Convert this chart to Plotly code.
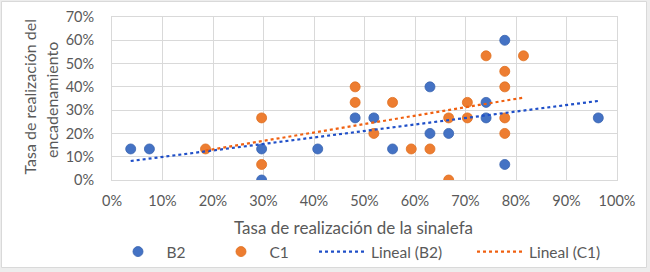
import numpy as np
import plotly.graph_objects as go

# Data (fractions)
b2_x = [1/27, 2/27, 8/27, 8/27, 11/27, 13/27, 14/27, 15/27, 17/27, 17/27, 18/27, 20/27, 20/27, 21/27, 21/27, 26/27]
b2_y = [2/15, 2/15, 2/15, 0, 2/15, 4/15, 4/15, 2/15, 6/15, 3/15, 3/15, 5/15, 4/15, 9/15, 1/15, 4/15]
c1_x = [5/27, 8/27, 8/27, 13/27, 13/27, 14/27, 15/27, 16/27, 17/27, 18/27, 18/27, 19/27, 19/27, 20/27, 21/27, 21/27, 21/27, 21/27, 22/27]
c1_y = [2/15, 4/15, 1/15, 6/15, 5/15, 3/15, 5/15, 2/15, 2/15, 4/15, 0, 5/15, 4/15, 8/15, 7/15, 6/15, 4/15, 3/15, 8/15]

FONT = "Lato, sans-serif"
TXT = "#595959"
BLUE = "#4472C4"
ORANGE = "#ED7D31"

L, R, T, B = 112, 33, 17, 92
PW, PH = 650 - L - R, 272 - T - B

def px(x):  # pixel x -> paper
    return (x - L) / PW

def py(y):  # pixel y -> paper
    return (272 - B - y) / PH

def trend(xs, ys):
    xs = np.array(xs); ys = np.array(ys)
    m, b = np.polyfit(xs, ys, 1)
    tx = np.array([xs.min(), xs.max()])
    return tx, m * tx + b

fig = go.Figure()
fig.add_trace(go.Scatter(x=b2_x, y=b2_y, mode="markers", name="B2", legend="legend",
                         marker=dict(color=BLUE, size=10, line=dict(color="#3A64B0", width=0.8))))
fig.add_trace(go.Scatter(x=c1_x, y=c1_y, mode="markers", name="C1", legend="legend2",
                         marker=dict(color=ORANGE, size=10, line=dict(color="#E07020", width=0.8))))
tx, ty = trend(b2_x, b2_y)
fig.add_trace(go.Scatter(x=tx, y=ty, mode="lines", name="Lineal (B2)", legend="legend3",
                         line=dict(color="#1F4FC8", width=2.2, dash="dot")))
tx, ty = trend(c1_x, c1_y)
fig.add_trace(go.Scatter(x=tx, y=ty, mode="lines", name="Lineal (C1)", legend="legend4",
                         line=dict(color="#F06010", width=2.2, dash="dot")))

def leg(xpix):
    return dict(orientation="h", x=px(xpix), xanchor="left", y=py(252), yanchor="middle",
                font=dict(size=15.5, color=TXT), bgcolor="rgba(0,0,0,0)", itemwidth=47)

fig.update_layout(
    width=650, height=272,
    margin=dict(l=L, r=R, t=T, b=B, autoexpand=False),
    paper_bgcolor="#EDEDED", plot_bgcolor="white",
    font=dict(family=FONT, size=14, color=TXT),
    showlegend=True,
    legend=leg(109.5), legend2=leg(212.5), legend3=leg(314), legend4=leg(472),
    xaxis=dict(range=[0, 1], tickvals=[i/10 for i in range(11)], tickformat=".0%",
               showgrid=True, gridcolor="#D9D9D9", gridwidth=1,
               showline=True, linecolor="#D9D9D9", mirror=True, zeroline=False,
               ticks="", ticklabelstandoff=8, automargin=False,
               tickfont=dict(size=14.5, color=TXT)),
    yaxis=dict(range=[0, 0.7], tickvals=[i/10 for i in range(8)], tickformat=".0%",
               showgrid=True, gridcolor="#D9D9D9", gridwidth=1,
               showline=True, linecolor="#D9D9D9", mirror=True, zeroline=False,
               ticks="", ticklabelstandoff=14, automargin=False,
               tickfont=dict(size=14.5, color=TXT)),
    annotations=[
        dict(text="Tasa de realización de la sinalefa", xref="paper", yref="paper",
             x=px(353), y=py(227), xanchor="center", yanchor="middle", showarrow=False,
             font=dict(size=17, color=TXT)),
        dict(text="Tasa de realización del", xref="paper", yref="paper", textangle=-90,
             x=px(28.5), y=py(97), xanchor="center", yanchor="middle", showarrow=False,
             font=dict(size=16, color=TXT)),
        dict(text="encadenamiento", xref="paper", yref="paper", textangle=-90,
             x=px(52), y=py(100), xanchor="center", yanchor="middle", showarrow=False,
             font=dict(size=16, color=TXT)),
    ],
    shapes=[dict(type="rect", xref="paper", yref="paper", layer="below",
                 x0=px(1.5), x1=px(646.5), y0=py(267.5), y1=py(1.5),
                 fillcolor="white", line=dict(color="#D9D9D9", width=1))],
)

fig.write_html("out.html", post_script="document.body.style.margin='0';",
               config={"displayModeBar": False})
